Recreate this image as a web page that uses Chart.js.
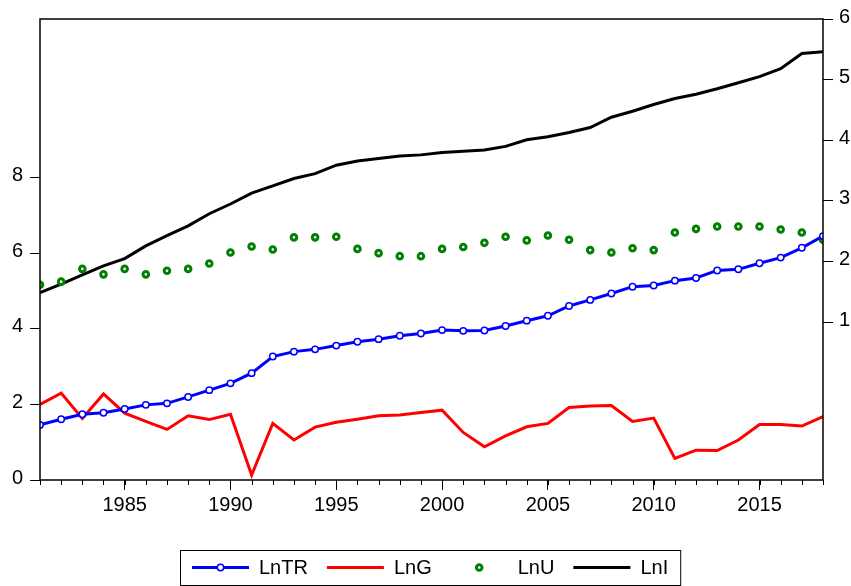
<!DOCTYPE html>
<html>
<head>
<meta charset="utf-8">
<script src="https://cdn.jsdelivr.net/npm/chart.js@4.4.0/dist/chart.umd.min.js"></script>
<style>
  body { margin: 0; background: #fff; }
</style>
</head>
<body>
<canvas id="lnChart" width="851" height="586"></canvas>
<script>
// values, 1981-2018
const years = [1981,1982,1983,1984,1985,1986,1987,1988,1989,1990,
               1991,1992,1993,1994,1995,1996,1997,1998,1999,2000,
               2001,2002,2003,2004,2005,2006,2007,2008,2009,2010,
               2011,2012,2013,2014,2015,2016,2017,2018];

// left axis
const lnTR = [1.46,1.61,1.74,1.78,1.88,1.99,2.03,2.20,2.38,2.56,
              2.83,3.27,3.40,3.46,3.56,3.66,3.73,3.82,3.88,3.97,
              3.95,3.96,4.08,4.22,4.35,4.61,4.77,4.94,5.12,5.15,
              5.28,5.35,5.55,5.58,5.74,5.89,6.15,6.46];
const lnG  = [2.00,2.30,1.63,2.28,1.77,1.55,1.34,1.70,1.60,1.74,
              0.13,1.50,1.06,1.40,1.53,1.61,1.70,1.72,1.79,1.85,
              1.26,0.88,1.17,1.41,1.50,1.92,1.96,1.97,1.55,1.64,
              0.57,0.79,0.78,1.06,1.47,1.47,1.43,1.68];
// right axis
const lnU  = [1.62,1.67,1.88,1.79,1.88,1.79,1.85,1.88,1.97,2.15,
              2.25,2.20,2.40,2.40,2.41,2.21,2.14,2.09,2.09,2.21,
              2.24,2.31,2.41,2.35,2.43,2.36,2.19,2.15,2.22,2.19,
              2.48,2.54,2.58,2.58,2.58,2.53,2.48,2.36];
const lnI  = [1.49,1.63,1.78,1.93,2.05,2.26,2.43,2.59,2.79,2.95,
              3.13,3.25,3.37,3.45,3.59,3.66,3.70,3.74,3.76,3.80,
              3.82,3.84,3.90,4.01,4.06,4.13,4.21,4.38,4.48,4.59,
              4.69,4.76,4.85,4.95,5.05,5.18,5.43,5.46];

const yearTicks  = [1985,1990,1995,2000,2005,2010,2015];
const leftTicks  = [0,2,4,6,8];
const rightTicks = [1,2,3,4,5,6];

const FONT = '"Liberation Sans", Arial, sans-serif';

function pts(arr) {
  return years.map((yr, i) => ({ x: yr, y: arr[i] }));
}

// black box round the plot
const frame = {
  id: 'frame',
  afterDatasetsDraw(chart) {
    const a = chart.chartArea, ctx = chart.ctx;
    ctx.save();
    ctx.strokeStyle = '#000';
    ctx.lineWidth = 1.5;
    ctx.strokeRect(a.left, a.top, a.right - a.left, a.bottom - a.top);
    // short yearly ticks under the x axis
    const xs = chart.scales.x;
    ctx.lineWidth = 1;
    years.forEach(yr => {
      const px = Math.round(xs.getPixelForValue(yr)) + 0.5;
      ctx.beginPath();
      ctx.moveTo(px, a.bottom);
      ctx.lineTo(px, a.bottom + 5);
      ctx.stroke();
    });
    ctx.restore();
  }
};

// eviews style legend box at the bottom
const boxLegend = {
  id: 'boxLegend',
  afterDraw(chart) {
    const ctx = chart.ctx;
    const sets = chart.data.datasets;
    const sample = 57, gapIn = 10, gapOut = 19, pad = 12;
    const top = 550, h = 35, mid = top + h / 2;
    ctx.save();
    ctx.font = '20px ' + FONT;
    let w = pad * 2 - gapOut;
    sets.forEach(ds => { w += sample + gapIn + ctx.measureText(ds.label).width + gapOut; });
    const left = Math.round(chart.width / 2 + 5 - w / 2);
    ctx.strokeStyle = '#000';
    ctx.lineWidth = 1;
    ctx.strokeRect(left + 0.5, top + 0.5, w, h);

    let x = left + pad;
    sets.forEach(ds => {
      if (ds.showLine !== false) {
        ctx.strokeStyle = ds.borderColor;
        ctx.lineWidth = ds.borderWidth;
        ctx.beginPath();
        ctx.moveTo(x, mid);
        ctx.lineTo(x + sample, mid);
        ctx.stroke();
      }
      if (ds.pointRadius > 0) {
        ctx.beginPath();
        ctx.arc(x + sample / 2, mid, ds.pointRadius, 0, Math.PI * 2);
        ctx.fillStyle = ds.pointBackgroundColor;
        ctx.fill();
        ctx.lineWidth = ds.pointBorderWidth;
        ctx.strokeStyle = ds.pointBorderColor;
        ctx.stroke();
      }
      ctx.fillStyle = '#000';
      ctx.textBaseline = 'middle';
      ctx.fillText(ds.label, x + sample + gapIn, mid + 1);
      x += sample + gapIn + ctx.measureText(ds.label).width + gapOut;
    });
    ctx.restore();
  }
};

new Chart(document.getElementById('lnChart'), {
  type: 'line',
  data: {
    datasets: [
      {
        label: 'LnTR', data: pts(lnTR), yAxisID: 'y',
        borderColor: '#0000ff', borderWidth: 3,
        pointRadius: 3.2, pointBorderWidth: 1.5,
        pointBackgroundColor: '#ffffff', pointBorderColor: '#0000ff'
      },
      {
        label: 'LnG', data: pts(lnG), yAxisID: 'y',
        borderColor: '#ff0000', borderWidth: 3, pointRadius: 0
      },
      {
        label: 'LnU', data: pts(lnU), yAxisID: 'y2',
        showLine: false, borderColor: '#008000',
        pointRadius: 2.8, pointBorderWidth: 3,
        pointBackgroundColor: '#ffffff', pointBorderColor: '#008000'
      },
      {
        label: 'LnI', data: pts(lnI), yAxisID: 'y2',
        borderColor: '#000000', borderWidth: 3, pointRadius: 0
      }
    ]
  },
  options: {
    responsive: false,
    animation: false,
    events: [],
    layout: { padding: { top: 19, left: 0, right: 0, bottom: 0 } },
    plugins: { legend: { display: false }, tooltip: { enabled: false } },
    scales: {
      x: {
        type: 'linear', min: 1981, max: 2018,
        afterBuildTicks: s => { s.ticks = yearTicks.map(v => ({ value: v })); },
        afterFit: s => { s.height = 106; },
        ticks: { color: '#000', font: { family: FONT, size: 20 }, padding: 3,
                 autoSkip: false, maxRotation: 0, callback: v => String(v) },
        grid: { drawOnChartArea: false, tickLength: 10, tickColor: '#000', tickWidth: 1 },
        border: { display: false }
      },
      y: {
        position: 'left', min: 0, max: 12.21,
        afterBuildTicks: s => { s.ticks = leftTicks.map(v => ({ value: v })); },
        afterFit: s => { s.width = 40; },
        ticks: { color: '#000', font: { family: FONT, size: 20 }, padding: 7, labelOffset: -2 },
        grid: { drawOnChartArea: false, tickLength: 10, tickColor: '#000', tickWidth: 1 },
        border: { display: false }
      },
      y2: {
        position: 'right', min: -1.6, max: 6.0,
        afterBuildTicks: s => { s.ticks = rightTicks.map(v => ({ value: v })); },
        afterFit: s => { s.width = 28; },
        ticks: { color: '#000', font: { family: FONT, size: 20 }, padding: 6, labelOffset: -2 },
        grid: { drawOnChartArea: false, tickLength: 10, tickColor: '#000', tickWidth: 1 },
        border: { display: false }
      }
    }
  },
  plugins: [frame, boxLegend]
});
</script>
</body>
</html>
